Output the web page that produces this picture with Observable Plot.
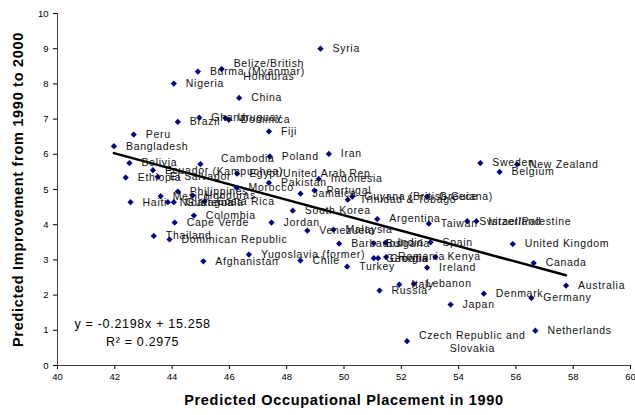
<!DOCTYPE html>
<html><head><meta charset="utf-8">
<script src="https://cdn.jsdelivr.net/npm/d3@7"></script>
<script src="https://cdn.jsdelivr.net/npm/@observablehq/plot@0.6"></script>
<style>
body{margin:0;background:#fff;}
#chart svg{font-family:Arial,"Liberation Sans",sans-serif;}
g[aria-label="text"] text{letter-spacing:0.7px;}
</style></head><body><div id="chart"></div>
<script>
const countries = ["Syria","Belize/British\nHonduras","Burma (Myanmar)","Nigeria","China","Ghana","Uruguay","Dominica","Brazil","Fiji","Peru","Bangladesh","Iran","Cambodia\n(Kampuchea)","Poland","Bolivia","Ecuador","El Salvador","Ethiopia","Egypt/United Arab Rep.","Indonesia","Morocco","Pakistan","Jamaica","Portugal","Guyana (British Guiana)","Trinidad & Tobago","Greece","Sweden","New Zealand","Belgium","Philippines","Mexico","Honduras","Haiti","Nicaragua","Guatemala","Costa Rica","South Korea","Colombia","Cape Verde","Jordan","Argentina","Taiwan","Switzerland","Israel/Palestine","Venezuela","Malaysia","Thailand","Dominican Republic","Barbados","Bulgaria","India","Spain","United Kingdom","Afghanistan","Yugoslavia (former)","Chile","Turkey","Georgia","Croatia","Romania","Kenya","Ireland","Canada","Australia","Russia","Italy","Lebanon","Denmark","Germany","Japan","Netherlands","Czech Republic and\nSlovakia"];
const occupational1990 = [49.18,45.73,44.9,44.06,46.34,44.95,45.86,45.98,44.2,47.38,42.66,41.97,49.47,44.99,47.41,42.51,43.33,43.5,42.38,46.27,49.12,46.25,47.38,48.48,48.97,50.29,50.13,52.9,54.76,56.04,55.43,44.2,43.6,44.72,42.55,43.85,44.06,45.13,48.21,44.76,44.09,47.47,51.16,52.96,54.3,54.62,48.72,49.63,43.36,43.91,49.83,51.04,51.45,53.02,55.89,45.09,46.68,48.48,50.11,51.04,51.19,51.47,53.19,52.9,56.62,57.75,51.24,51.93,52.44,54.88,56.54,53.72,56.68,52.2];
const improvement = [9.0,8.42,8.35,8.01,7.6,7.04,7.03,6.98,6.92,6.65,6.56,6.23,6.01,5.72,5.94,5.75,5.55,5.36,5.34,5.45,5.3,5.05,5.19,4.88,4.97,4.8,4.71,4.8,5.75,5.71,5.5,4.94,4.81,4.83,4.64,4.64,4.64,4.66,4.4,4.26,4.06,4.06,4.16,4.03,4.1,4.1,3.83,3.86,3.68,3.58,3.46,3.47,3.49,3.5,3.45,2.96,3.15,2.98,2.81,3.05,3.05,3.08,3.08,2.78,2.91,2.27,2.13,2.3,2.32,2.04,1.92,1.73,0.99,0.69];
const xTicks = [40,42,44,46,48,50,52,54,56,58,60];
const yTicks = [0,1,2,3,4,5,6,7,8,9,10];
const trendSlope = -0.2198, trendIntercept = 15.258, trendR2 = 0.2975;
const xTitle = "Predicted Occupational Placement in 1990";
const yTitle = "Predicted Improvement from 1990 to 2000";

const data = countries.map((c, i) => ({country: c, x: occupational1990[i], y: improvement[i]}));
const single = data.filter(d => !d.country.includes("\n"));
const multi = data.filter(d => d.country.includes("\n"));
const [x0, x1] = d3.extent(occupational1990);
const trend = [x0, x1].map(x => ({x, y: trendSlope * x + trendIntercept}));

const labelFont = 10.5, spacing = 0.7;
const ctx = document.createElement("canvas").getContext("2d");
ctx.font = `${labelFont}px Arial, "Liberation Sans", sans-serif`;
const lineWidth = s => Math.max(...s.split("\n").map(l => ctx.measureText(l).width + spacing * l.length));

const multiMarks = multi.map(d => Plot.text([d], {x: "x", y: "y", text: "country", textAnchor: "middle", dx: 12 + lineWidth(d.country) / 2, fontSize: labelFont, fill: "#111", lineHeight: 1.25}));

const chart = Plot.plot({
  width: 635, height: 415,
  marginLeft: 57, marginRight: 5, marginTop: 13, marginBottom: 50,
  x: {domain: [40, 60]},
  y: {domain: [0, 10]},
  style: {fontSize: "9.5px", color: "#000", background: "#fff"},
  marks: [
    Plot.axisX({ticks: xTicks, tickSize: 4, tickPadding: 4, label: null, fontSize: 9.5}),
    Plot.axisY({ticks: yTicks, tickSize: 4, tickPadding: 5, label: null, fontSize: 9.5}),
    Plot.ruleY([0], {stroke: "#404040"}),
    Plot.ruleX([40], {stroke: "#404040"}),
    Plot.text([xTitle], {frameAnchor: "bottom", textAnchor: "middle", dy: 39, fontSize: 14.5, fontWeight: "bold", fill: "#000"}),
    Plot.text([yTitle], {frameAnchor: "left", textAnchor: "middle", dx: -39, rotate: -90, fontSize: 14.5, fontWeight: "bold", fill: "#000"}),
    Plot.line(trend, {x: "x", y: "y", stroke: "#000", strokeWidth: 2.5}),
    Plot.dot(data, {x: "x", y: "y", symbol: "diamond2", r: 2.8, fill: "#000080", stroke: "none"}),
    Plot.text(single, {x: "x", y: "y", text: "country", textAnchor: "start", dx: 12, fontSize: labelFont, fill: "#111"}),
    ...multiMarks,
    Plot.text([`y = ${trendSlope}x + ${trendIntercept}`], {x: 42.97, y: 1.19, fontSize: 12.5, fill: "#000"}),
    Plot.text([`R² = ${trendR2}`], {x: 42.97, y: 0.68, fontSize: 12.5, fill: "#000"})
  ]
});
document.getElementById("chart").appendChild(chart);
</script></body></html>
